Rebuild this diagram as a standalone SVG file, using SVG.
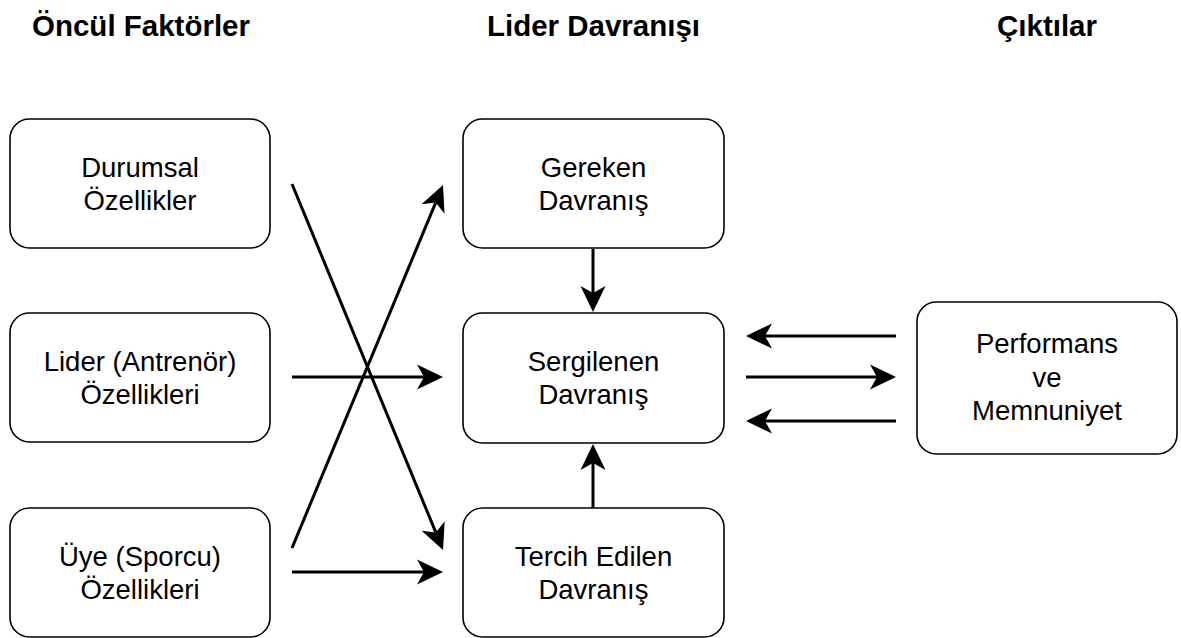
<svg xmlns="http://www.w3.org/2000/svg" width="1181" height="638" viewBox="0 0 1181 638">
  <defs>
    <style>
      .box { fill: #ffffff; stroke: #000000; stroke-width: 1.6; }
      .label { font-family: "Liberation Sans", Arial, Helvetica, sans-serif; font-size: 27.5px; fill: #000000; text-anchor: middle; }
      .title { font-family: "Liberation Sans", Arial, Helvetica, sans-serif; font-size: 29.5px; font-weight: bold; fill: #000000; text-anchor: middle; }
      .edge { fill: none; stroke: #000000; stroke-width: 3; marker-end: url(#head); }
    </style>
    <!-- notched arrowhead; reference point sits in the notch so the line ends there -->
    <marker id="head" markerUnits="userSpaceOnUse" markerWidth="26" markerHeight="25" refX="7" refY="12.5" orient="auto" overflow="visible">
      <path d="M0,0 L26,12.5 L0,25 L7,12.5 Z" fill="#000000"/>
    </marker>
  </defs>

  <rect width="1181" height="638" fill="#ffffff"/>

  <!-- column headings -->
  <g id="headings">
    <text class="title" x="141" y="36">Öncül Faktörler</text>
    <text class="title" x="593.5" y="36">Lider Davranışı</text>
    <text class="title" x="1047" y="36">Çıktılar</text>
  </g>

  <!-- antecedents -->
  <g id="durumsal">
    <rect class="box" x="10" y="119" width="260" height="129" rx="19.5"/>
    <text class="label" x="140" y="177">Durumsal</text>
    <text class="label" x="140" y="210">Özellikler</text>
  </g>
  <g id="lider-ozellikleri">
    <rect class="box" x="10" y="313" width="260" height="129" rx="19.5"/>
    <text class="label" x="140" y="371">Lider (Antrenör)</text>
    <text class="label" x="140" y="404">Özellikleri</text>
  </g>
  <g id="uye-ozellikleri">
    <rect class="box" x="10" y="508" width="260" height="129" rx="19.5"/>
    <text class="label" x="140" y="566">Üye (Sporcu)</text>
    <text class="label" x="140" y="599">Özellikleri</text>
  </g>

  <!-- leader behaviour -->
  <g id="gereken">
    <rect class="box" x="463" y="119" width="261" height="129" rx="19.5"/>
    <text class="label" x="593.5" y="177">Gereken</text>
    <text class="label" x="593.5" y="210">Davranış</text>
  </g>
  <g id="sergilenen">
    <rect class="box" x="463" y="313" width="261" height="130" rx="19.5"/>
    <text class="label" x="593.5" y="371">Sergilenen</text>
    <text class="label" x="593.5" y="404">Davranış</text>
  </g>
  <g id="tercih">
    <rect class="box" x="463" y="508" width="261" height="129" rx="19.5"/>
    <text class="label" x="593.5" y="566">Tercih Edilen</text>
    <text class="label" x="593.5" y="599">Davranış</text>
  </g>

  <!-- outcomes -->
  <g id="performans">
    <rect class="box" x="917" y="302" width="260" height="152" rx="19.5"/>
    <text class="label" x="1047" y="353">Performans</text>
    <text class="label" x="1047" y="387">ve</text>
    <text class="label" x="1047" y="420">Memnuniyet</text>
  </g>

  <!-- connectors -->
  <g id="connectors">
    <line class="edge" x1="292" y1="184" x2="435.8" y2="532.4"/>
    <line class="edge" x1="292" y1="548" x2="435.7" y2="202.6"/>
    <line class="edge" x1="292" y1="377" x2="424" y2="377"/>
    <line class="edge" x1="292" y1="572" x2="424" y2="572"/>
    <line class="edge" x1="593" y1="249" x2="593" y2="293"/>
    <line class="edge" x1="593" y1="508" x2="593" y2="463"/>
    <line class="edge" x1="896" y1="336" x2="765" y2="336"/>
    <line class="edge" x1="746" y1="377" x2="877" y2="377"/>
    <line class="edge" x1="896" y1="421" x2="765" y2="421"/>
  </g>
</svg>
